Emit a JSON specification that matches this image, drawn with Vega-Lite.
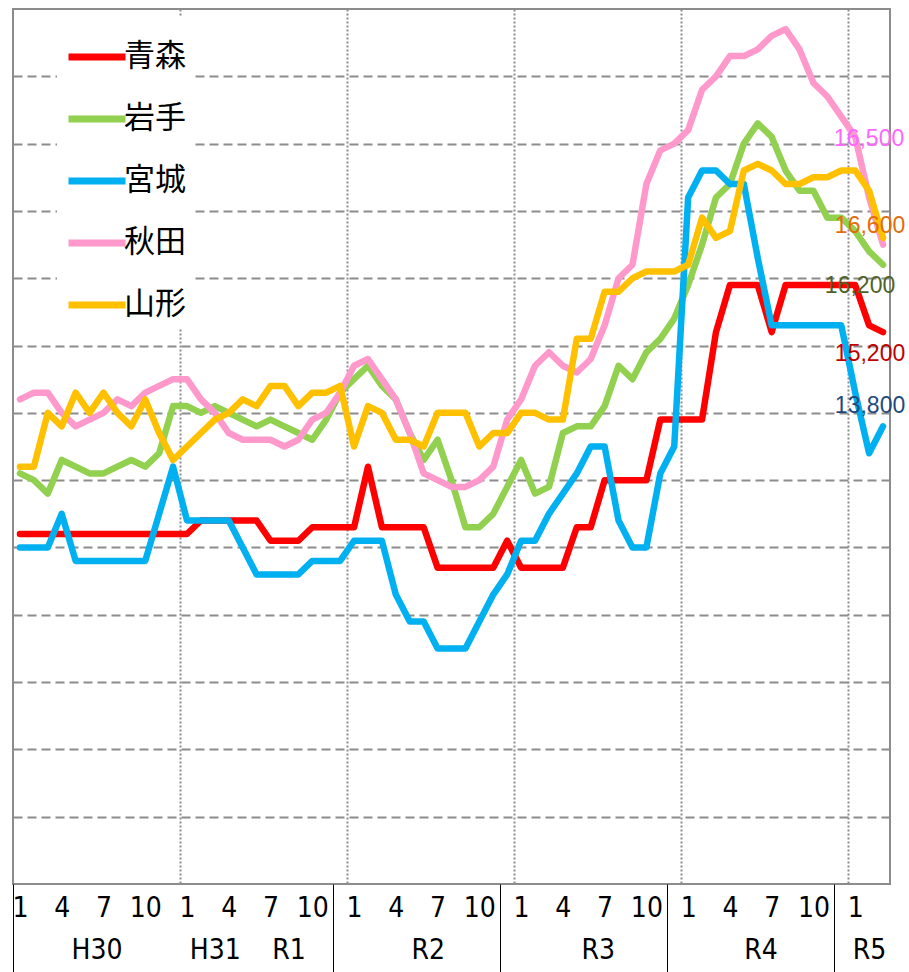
{
 "$schema": "https://vega.github.io/schema/vega-lite/v6.json",
 "width": 877, "height": 875,
 "autosize": {"type": "none"},
 "padding": {"left": 13, "top": 9, "right": 19, "bottom": 88},
 "background": "white",
 "config": {"view": {"stroke": "#8c8c8c", "strokeWidth": 2}, "axis": {"title": null}},
 "data": {"values": [
  {"i":0,"青森":12200,"岩手":13100,"宮城":12000,"秋田":14200,"山形":13200},
  {"i":1,"青森":12200,"岩手":13000,"宮城":12000,"秋田":14300,"山形":13200},
  {"i":2,"青森":12200,"岩手":12800,"宮城":12000,"秋田":14300,"山形":14000},
  {"i":3,"青森":12200,"岩手":13300,"宮城":12500,"秋田":14000,"山形":13800},
  {"i":4,"青森":12200,"岩手":13200,"宮城":11800,"秋田":13800,"山形":14300},
  {"i":5,"青森":12200,"岩手":13100,"宮城":11800,"秋田":13900,"山形":14000},
  {"i":6,"青森":12200,"岩手":13100,"宮城":11800,"秋田":14000,"山形":14300},
  {"i":7,"青森":12200,"岩手":13200,"宮城":11800,"秋田":14200,"山形":14000},
  {"i":8,"青森":12200,"岩手":13300,"宮城":11800,"秋田":14100,"山形":13800},
  {"i":9,"青森":12200,"岩手":13200,"宮城":11800,"秋田":14300,"山形":14200},
  {"i":10,"青森":12200,"岩手":13400,"宮城":12500,"秋田":14400,"山形":13700},
  {"i":11,"青森":12200,"岩手":14100,"宮城":13200,"秋田":14500,"山形":13300},
  {"i":12,"青森":12200,"岩手":14100,"宮城":12400,"秋田":14500,"山形":13500},
  {"i":13,"青森":12400,"岩手":14000,"宮城":12400,"秋田":14200,"山形":13700},
  {"i":14,"青森":12400,"岩手":14100,"宮城":12400,"秋田":14000,"山形":13900},
  {"i":15,"青森":12400,"岩手":14000,"宮城":12400,"秋田":13700,"山形":14000},
  {"i":16,"青森":12400,"岩手":13900,"宮城":12000,"秋田":13600,"山形":14200},
  {"i":17,"青森":12400,"岩手":13800,"宮城":11600,"秋田":13600,"山形":14100},
  {"i":18,"青森":12100,"岩手":13900,"宮城":11600,"秋田":13600,"山形":14400},
  {"i":19,"青森":12100,"岩手":13800,"宮城":11600,"秋田":13500,"山形":14400},
  {"i":20,"青森":12100,"岩手":13700,"宮城":11600,"秋田":13600,"山形":14100},
  {"i":21,"青森":12300,"岩手":13600,"宮城":11800,"秋田":13900,"山形":14300},
  {"i":22,"青森":12300,"岩手":13900,"宮城":11800,"秋田":14000,"山形":14300},
  {"i":23,"青森":12300,"岩手":14300,"宮城":11800,"秋田":14300,"山形":14400},
  {"i":24,"青森":12300,"岩手":14500,"宮城":12100,"秋田":14700,"山形":13500},
  {"i":25,"青森":13200,"岩手":14700,"宮城":12100,"秋田":14800,"山形":14100},
  {"i":26,"青森":12300,"岩手":14400,"宮城":12100,"秋田":14500,"山形":14000},
  {"i":27,"青森":12300,"岩手":14200,"宮城":11300,"秋田":14200,"山形":13600},
  {"i":28,"青森":12300,"岩手":13700,"宮城":10900,"秋田":13700,"山形":13600},
  {"i":29,"青森":12300,"岩手":13300,"宮城":10900,"秋田":13100,"山形":13500},
  {"i":30,"青森":11700,"岩手":13600,"宮城":10500,"秋田":13000,"山形":14000},
  {"i":31,"青森":11700,"岩手":13000,"宮城":10500,"秋田":12900,"山形":14000},
  {"i":32,"青森":11700,"岩手":12300,"宮城":10500,"秋田":12900,"山形":14000},
  {"i":33,"青森":11700,"岩手":12300,"宮城":10900,"秋田":13000,"山形":13500},
  {"i":34,"青森":11700,"岩手":12500,"宮城":11300,"秋田":13200,"山形":13700},
  {"i":35,"青森":12100,"岩手":12900,"宮城":11600,"秋田":13900,"山形":13700},
  {"i":36,"青森":11700,"岩手":13300,"宮城":12100,"秋田":14200,"山形":14000},
  {"i":37,"青森":11700,"岩手":12800,"宮城":12100,"秋田":14700,"山形":14000},
  {"i":38,"青森":11700,"岩手":12900,"宮城":12500,"秋田":14900,"山形":13900},
  {"i":39,"青森":11700,"岩手":13700,"宮城":12800,"秋田":14700,"山形":13900},
  {"i":40,"青森":12300,"岩手":13800,"宮城":13100,"秋田":14600,"山形":15100},
  {"i":41,"青森":12300,"岩手":13800,"宮城":13500,"秋田":14800,"山形":15100},
  {"i":42,"青森":13000,"岩手":14100,"宮城":13500,"秋田":15300,"山形":15800},
  {"i":43,"青森":13000,"岩手":14700,"宮城":12400,"秋田":16000,"山形":15800},
  {"i":44,"青森":13000,"岩手":14500,"宮城":12000,"秋田":16200,"山形":16000},
  {"i":45,"青森":13000,"岩手":14900,"宮城":12000,"秋田":17400,"山形":16100},
  {"i":46,"青森":13900,"岩手":15100,"宮城":13100,"秋田":17900,"山形":16100},
  {"i":47,"青森":13900,"岩手":15400,"宮城":13500,"秋田":18000,"山形":16100},
  {"i":48,"青森":13900,"岩手":15900,"宮城":17200,"秋田":18200,"山形":16200},
  {"i":49,"青森":13900,"岩手":16500,"宮城":17600,"秋田":18800,"山形":16900},
  {"i":50,"青森":15200,"岩手":17200,"宮城":17600,"秋田":19000,"山形":16600},
  {"i":51,"青森":15900,"岩手":17400,"宮城":17400,"秋田":19300,"山形":16700},
  {"i":52,"青森":15900,"岩手":18000,"宮城":17400,"秋田":19300,"山形":17600},
  {"i":53,"青森":15900,"岩手":18300,"宮城":16300,"秋田":19400,"山形":17700},
  {"i":54,"青森":15200,"岩手":18100,"宮城":15300,"秋田":19600,"山形":17600},
  {"i":55,"青森":15900,"岩手":17600,"宮城":15300,"秋田":19700,"山形":17400},
  {"i":56,"青森":15900,"岩手":17300,"宮城":15300,"秋田":19400,"山形":17400},
  {"i":57,"青森":15900,"岩手":17300,"宮城":15300,"秋田":18900,"山形":17500},
  {"i":58,"青森":15900,"岩手":16900,"宮城":15300,"秋田":18700,"山形":17500},
  {"i":59,"青森":15900,"岩手":16900,"宮城":15300,"秋田":18400,"山形":17600},
  {"i":60,"青森":15900,"岩手":16700,"宮城":14300,"秋田":18100,"山形":17600},
  {"i":61,"青森":15300,"岩手":16400,"宮城":13400,"秋田":17200,"山形":17300},
  {"i":62,"青森":15200,"岩手":16200,"宮城":13800,"秋田":16500,"山形":16600}
 ]},
 "transform": [{"fold": ["青森","岩手","宮城","秋田","山形"], "as": ["pref","v"]}],
 "resolve": {"axis": {"x": "independent"}},
 "layer": [
  {
   "mark": {"type": "line", "strokeWidth": 6.5, "strokeJoin": "round", "strokeCap": "round"},
   "encoding": {
    "x": {"field": "i", "type": "quantitative", "scale": {"domain": [-0.5, 62.5], "nice": false, "zero": false},
     "axis": {"orient": "bottom", "values": [0,3,6,9,12,15,18,21,24,27,30,33,36,39,42,45,48,51,54,57,60], "labelExpr": "datum.value % 12 + 1", "grid": false, "ticks": false, "domain": false, "labelFont": "Liberation Sans Narrow, DejaVu Sans Condensed, sans-serif", "labelFontSize": 28, "labelColor": "#000000", "labelPadding": 10, "labelOverlap": false, "labelFlush": false}},
    "y": {"field": "v", "type": "quantitative", "scale": {"domain": [7000, 20000], "nice": false, "zero": false},
     "axis": {"values": [8000,9000,10000,11000,12000,13000,14000,15000,16000,17000,18000,19000], "grid": true, "gridDash": [9,5], "gridColor": "#8c8c8c", "gridWidth": 2, "labels": false, "ticks": false, "domain": false}},
    "color": {"field": "pref", "type": "nominal",
     "scale": {"domain": ["青森","岩手","宮城","秋田","山形"], "range": ["#ff0000","#92d050","#00b0f0","#ff99cc","#ffc000"]},
     "legend": {"orient": "none", "legendX": 44, "legendY": 8, "direction": "vertical", "title": null, "fillColor": "white", "padding": 8, "symbolType": "stroke", "symbolSize": 3249, "symbolStrokeWidth": 7, "labelFont": "Noto Sans CJK JP", "labelFontSize": 31, "labelColor": "#000000", "labelOffset": -5, "rowPadding": 15}}
   }
  },
  {
   "transform": [{"filter": "datum.i == 62 && datum.pref == '青森'"}],
   "mark": {"type": "text", "font": "Liberation Sans", "fontSize": 23, "color": "#c00000", "dx": -13, "dy": 22, "align": "center", "baseline": "middle"},
   "encoding": {
    "x": {"field": "i", "type": "quantitative", "scale": {"domain": [-0.5, 62.5], "nice": false, "zero": false},
     "axis": {"orient": "bottom", "values": [5.5, 14, 19.3, 29.3, 41.5, 53.2, 61], "labelExpr": "datum.value == 5.5 ? 'H30' : datum.value == 14 ? 'H31' : datum.value == 19.3 ? 'R1' : datum.value == 29.3 ? 'R2' : datum.value == 41.5 ? 'R3' : datum.value == 53.2 ? 'R4' : 'R5'", "grid": false, "ticks": false, "domain": false, "labelFont": "Liberation Sans Narrow, DejaVu Sans Condensed, sans-serif", "labelFontSize": 28, "labelColor": "#000000", "labelPadding": 52, "labelOverlap": false, "labelFlush": false}},
    "y": {"field": "v", "type": "quantitative", "scale": {"domain": [7000, 20000], "nice": false, "zero": false}},
    "text": {"field": "v", "type": "quantitative", "format": ","}
   }
  },
  {
   "transform": [{"filter": "datum.i == 62 && datum.pref == '岩手'"}],
   "mark": {"type": "text", "font": "Liberation Sans", "fontSize": 23, "color": "#4f6228", "dx": -23, "dy": 21, "align": "center", "baseline": "middle"},
   "encoding": {
    "x": {"field": "i", "type": "quantitative", "scale": {"domain": [-0.5, 62.5], "nice": false, "zero": false},
     "axis": {"orient": "bottom", "values": [-0.5, 22.5, 34.5, 46.5, 58.5], "labels": false, "ticks": true, "tickSize": 88, "tickColor": "#000000", "tickWidth": 1, "domain": false, "grid": false}},
    "y": {"field": "v", "type": "quantitative", "scale": {"domain": [7000, 20000], "nice": false, "zero": false}},
    "text": {"field": "v", "type": "quantitative", "format": ","}
   }
  },
  {
   "transform": [{"filter": "datum.i == 62 && datum.pref == '宮城'"}],
   "mark": {"type": "text", "font": "Liberation Sans", "fontSize": 23, "color": "#1f497d", "dx": -13, "dy": -20, "align": "center", "baseline": "middle"},
   "encoding": {
    "x": {"field": "i", "type": "quantitative", "scale": {"domain": [-0.5, 62.5], "nice": false, "zero": false},
     "axis": {"orient": "bottom", "values": [11.5, 23.5, 35.5, 47.5, 59.5], "labels": false, "ticks": false, "domain": false, "grid": true, "gridDash": [2,2], "gridColor": "#8c8c8c", "gridWidth": 2}},
    "y": {"field": "v", "type": "quantitative", "scale": {"domain": [7000, 20000], "nice": false, "zero": false}},
    "text": {"field": "v", "type": "quantitative", "format": ","}
   }
  },
  {
   "transform": [{"filter": "datum.i == 62 && datum.pref == '秋田'"}],
   "mark": {"type": "text", "font": "Liberation Sans", "fontSize": 23, "color": "#ff66ff", "dx": -14, "dy": -106, "align": "center", "baseline": "middle"},
   "encoding": {
    "x": {"field": "i", "type": "quantitative", "scale": {"domain": [-0.5, 62.5], "nice": false, "zero": false}, "axis": null},
    "y": {"field": "v", "type": "quantitative", "scale": {"domain": [7000, 20000], "nice": false, "zero": false}},
    "text": {"field": "v", "type": "quantitative", "format": ","}
   }
  },
  {
   "transform": [{"filter": "datum.i == 62 && datum.pref == '山形'"}],
   "mark": {"type": "text", "font": "Liberation Sans", "fontSize": 23, "color": "#e46c0a", "dx": -13, "dy": -12, "align": "center", "baseline": "middle"},
   "encoding": {
    "x": {"field": "i", "type": "quantitative", "scale": {"domain": [-0.5, 62.5], "nice": false, "zero": false}, "axis": null},
    "y": {"field": "v", "type": "quantitative", "scale": {"domain": [7000, 20000], "nice": false, "zero": false}},
    "text": {"field": "v", "type": "quantitative", "format": ","}
   }
  }
 ]
}
